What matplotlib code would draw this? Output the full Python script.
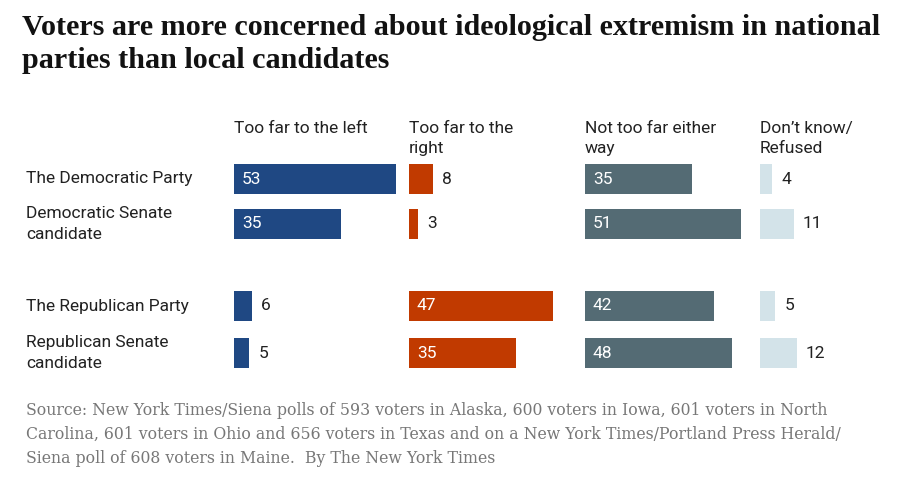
import matplotlib
matplotlib.use("Agg")
import matplotlib.pyplot as plt

rows = ["The Democratic Party", "Democratic Senate\ncandidate", "The Republican Party", "Republican Senate\ncandidate"]
columns = ["Too far to the left", "Too far to the\nright", "Not too far either\nway", "Don\u2019t know/\nRefused"]
left = [53, 35, 6, 5]
right = [8, 3, 47, 35]
neither = [35, 51, 42, 48]
dontknow = [4, 11, 5, 12]
series = [left, right, neither, dontknow]
colors = ["#1f4883", "#c13a00", "#546b74", "#d3e3e9"]

W, H = 912, 492
fig = plt.figure(figsize=(W/100, H/100), dpi=100)
ax = fig.add_axes([0, 0, 1, 1])
ax.set_xlim(0, W); ax.set_ylim(H, 0); ax.axis("off")

col_x = [234, 409, 585, 760]
row_y = [179, 224, 306, 353]
scale = 3.06
sans = "Roboto"

fig.text(22/W, 1-14/H, "Voters are more concerned about ideological extremism in national\nparties than local candidates",
         fontsize=21.7, fontweight="bold", family="Liberation Serif", va="top", ha="left", linespacing=1.3, color="#121212")

for cx, lab in zip(col_x, columns):
    ax.text(cx, 121, lab, fontsize=12.5, family=sans, va="top", ha="left", color="#222222", linespacing=1.45)

for ry, lab in zip(row_y, rows):
    ax.text(26, ry, lab, fontsize=12.5, family=sans, va="center", ha="left", color="#222222", linespacing=1.45)

for cx, vals, c in zip(col_x, series, colors):
    ax.barh(row_y, [v*scale for v in vals], left=cx, height=30, color=c)
    for ry, v in zip(row_y, vals):
        if v >= 20:
            ax.text(cx+8, ry, str(v), color="white", fontsize=12.5, family=sans, va="center", ha="left")
        else:
            ax.text(cx+v*scale+9, ry, str(v), color="#222222", fontsize=12.5, family=sans, va="center", ha="left")

ax.text(26, 402, "Source: New York Times/Siena polls of 593 voters in Alaska, 600 voters in Iowa, 601 voters in North\n"
        "Carolina, 601 voters in Ohio and 656 voters in Texas and on a New York Times/Portland Press Herald/\n"
        "Siena poll of 608 voters in Maine.  By The New York Times",
        fontsize=11.3, family="DejaVu Serif", va="top", ha="left", color="#777777", linespacing=1.55)

fig.savefig("out.png", dpi=100)
